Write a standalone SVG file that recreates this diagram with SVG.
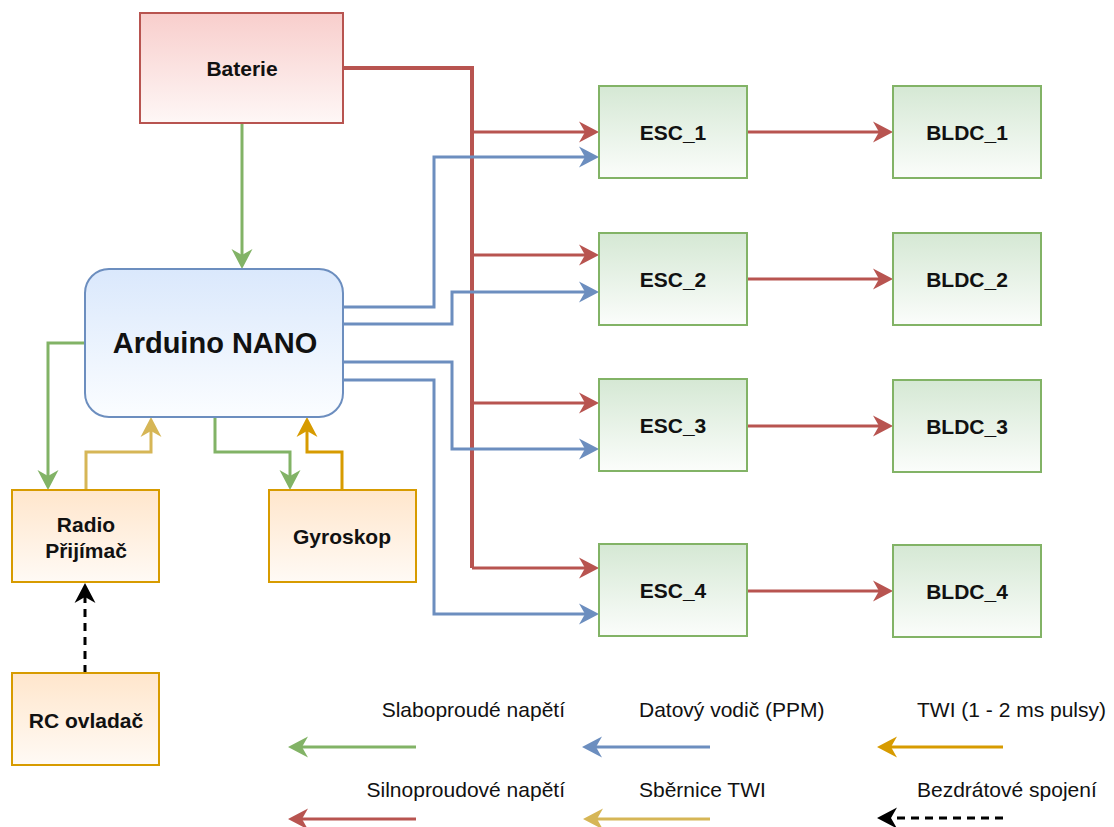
<svg xmlns="http://www.w3.org/2000/svg" width="1114" height="827" viewBox="0 0 1114 827">
<style>
.lbl{font-family:"Liberation Sans",Arial,Helvetica,sans-serif;font-weight:bold;font-size:21px;fill:#111;text-anchor:middle;dominant-baseline:central}
.big{font-size:29px}
.leg{font-family:"Liberation Sans",Arial,Helvetica,sans-serif;font-size:21px;fill:#111}
.c{fill:none;stroke-width:3;stroke-linejoin:miter}
.r{stroke:#b85450}.g{stroke:#82b366}.b{stroke:#6c8ebf}.o{stroke:#d79b00}.y{stroke:#d6b656}.k{stroke:#000;stroke-dasharray:8 6}
</style>
<defs>
<linearGradient id="gr" x1="0" y1="0" x2="0" y2="1"><stop offset="0" stop-color="#f8cecc"/><stop offset="1" stop-color="#fef7f6"/></linearGradient>
<linearGradient id="gg" x1="0" y1="0" x2="0" y2="1"><stop offset="0" stop-color="#d5e8d4"/><stop offset="1" stop-color="#fbfdfb"/></linearGradient>
<linearGradient id="gb" x1="0" y1="0" x2="0" y2="1"><stop offset="0" stop-color="#dae8fc"/><stop offset="1" stop-color="#fbfdff"/></linearGradient>
<linearGradient id="go" x1="0" y1="0" x2="0" y2="1"><stop offset="0" stop-color="#ffe6cc"/><stop offset="1" stop-color="#fffaf5"/></linearGradient>
<marker id="mr" markerUnits="userSpaceOnUse" markerWidth="26" markerHeight="26" viewBox="-22 -13 26 26" refX="-12" refY="0" orient="auto"><path d="M0,0 L-20,-10.5 L-14,0 L-20,10.5 Z" fill="#b85450"/></marker>
<marker id="mg" markerUnits="userSpaceOnUse" markerWidth="26" markerHeight="26" viewBox="-22 -13 26 26" refX="-12" refY="0" orient="auto"><path d="M0,0 L-20,-10.5 L-14,0 L-20,10.5 Z" fill="#82b366"/></marker>
<marker id="mb" markerUnits="userSpaceOnUse" markerWidth="26" markerHeight="26" viewBox="-22 -13 26 26" refX="-12" refY="0" orient="auto"><path d="M0,0 L-20,-10.5 L-14,0 L-20,10.5 Z" fill="#6c8ebf"/></marker>
<marker id="mo" markerUnits="userSpaceOnUse" markerWidth="26" markerHeight="26" viewBox="-22 -13 26 26" refX="-12" refY="0" orient="auto"><path d="M0,0 L-20,-10.5 L-14,0 L-20,10.5 Z" fill="#d79b00"/></marker>
<marker id="my" markerUnits="userSpaceOnUse" markerWidth="26" markerHeight="26" viewBox="-22 -13 26 26" refX="-12" refY="0" orient="auto"><path d="M0,0 L-20,-10.5 L-14,0 L-20,10.5 Z" fill="#d6b656"/></marker>
<marker id="mk" markerUnits="userSpaceOnUse" markerWidth="26" markerHeight="26" viewBox="-22 -13 26 26" refX="-12" refY="0" orient="auto"><path d="M0,0 L-20,-10.5 L-14,0 L-20,10.5 Z" fill="#000"/></marker>
</defs>
<rect width="1114" height="827" fill="#fff"/>
<g id="connectors">
<path class="c r" style="stroke-width:4" d="M343,68 H472 V568"/>
<path class="c r" marker-end="url(#mr)" d="M472,132 H587"/>
<path class="c r" marker-end="url(#mr)" d="M472,255 H587"/>
<path class="c r" marker-end="url(#mr)" d="M472,403 H587"/>
<path class="c r" marker-end="url(#mr)" d="M472,568 H587"/>
<path class="c r" marker-end="url(#mr)" d="M747,132 H881"/>
<path class="c r" marker-end="url(#mr)" d="M747,279 H881"/>
<path class="c r" marker-end="url(#mr)" d="M747,426 H881"/>
<path class="c r" marker-end="url(#mr)" d="M747,591 H881"/>
<path class="c b" marker-end="url(#mb)" d="M343,307 H434 V157 H587"/>
<path class="c b" marker-end="url(#mb)" d="M343,324 H452 V292 H587"/>
<path class="c b" marker-end="url(#mb)" d="M343,362 H452 V449 H587"/>
<path class="c b" marker-end="url(#mb)" d="M343,380 H434 V614 H587"/>
<path class="c g" marker-end="url(#mg)" d="M242,123 V257"/>
<path class="c g" marker-end="url(#mg)" d="M85,343 H48 V478"/>
<path class="c g" marker-end="url(#mg)" d="M215,417 V452 H290 V478"/>
<path class="c y" marker-end="url(#my)" d="M86,490 V452 H151 V429"/>
<path class="c o" marker-end="url(#mo)" d="M342,490 V452 H307 V429"/>
<path class="c k" marker-end="url(#mk)" d="M85,673 V595"/>
</g>
<g id="baterie"><rect x="140" y="13" width="203" height="110" fill="url(#gr)" stroke="#b85450" stroke-width="2"/><text class="lbl" x="242" y="68">Baterie</text></g>
<g id="arduino"><rect x="85" y="269" width="258" height="148" rx="24" fill="url(#gb)" stroke="#6c8ebf" stroke-width="2"/><text class="lbl big" x="215" y="343">Arduino NANO</text></g>
<g id="radio"><rect x="12" y="490" width="147" height="92" fill="url(#go)" stroke="#d79b00" stroke-width="2"/><text class="lbl" x="86" y="524">Radio</text><text class="lbl" x="86" y="550">Přijímač</text></g>
<g id="gyroskop"><rect x="269" y="490" width="147" height="92" fill="url(#go)" stroke="#d79b00" stroke-width="2"/><text class="lbl" x="342" y="536">Gyroskop</text></g>
<g id="rc"><rect x="12" y="673" width="147" height="92" fill="url(#go)" stroke="#d79b00" stroke-width="2"/><text class="lbl" x="86" y="720">RC ovladač</text></g>
<g id="esc1"><rect x="599" y="86" width="148" height="92" fill="url(#gg)" stroke="#82b366" stroke-width="2"/><text class="lbl" x="673" y="132">ESC_1</text></g>
<g id="esc2"><rect x="599" y="233" width="148" height="92" fill="url(#gg)" stroke="#82b366" stroke-width="2"/><text class="lbl" x="673" y="279">ESC_2</text></g>
<g id="esc3"><rect x="599" y="379" width="148" height="92" fill="url(#gg)" stroke="#82b366" stroke-width="2"/><text class="lbl" x="673" y="425">ESC_3</text></g>
<g id="esc4"><rect x="599" y="544" width="148" height="92" fill="url(#gg)" stroke="#82b366" stroke-width="2"/><text class="lbl" x="673" y="590">ESC_4</text></g>
<g id="bldc1"><rect x="893" y="86" width="148" height="92" fill="url(#gg)" stroke="#82b366" stroke-width="2"/><text class="lbl" x="967" y="132">BLDC_1</text></g>
<g id="bldc2"><rect x="893" y="233" width="148" height="92" fill="url(#gg)" stroke="#82b366" stroke-width="2"/><text class="lbl" x="967" y="279">BLDC_2</text></g>
<g id="bldc3"><rect x="893" y="380" width="148" height="92" fill="url(#gg)" stroke="#82b366" stroke-width="2"/><text class="lbl" x="967" y="426">BLDC_3</text></g>
<g id="bldc4"><rect x="893" y="545" width="148" height="92" fill="url(#gg)" stroke="#82b366" stroke-width="2"/><text class="lbl" x="967" y="591">BLDC_4</text></g>
<g id="legend">
<text class="leg" x="565" y="717" text-anchor="end">Slaboproudé napětí</text>
<text class="leg" x="639" y="717">Datový vodič (PPM)</text>
<text class="leg" x="917" y="717">TWI (1 - 2 ms pulsy)</text>
<text class="leg" x="565" y="797" text-anchor="end">Silnoproudové napětí</text>
<text class="leg" x="639" y="797">Sběrnice TWI</text>
<text class="leg" x="917" y="797">Bezdrátové spojení</text>
<path class="c g" marker-end="url(#mg)" d="M416,747 H300"/>
<path class="c b" marker-end="url(#mb)" d="M710,747 H594"/>
<path class="c o" marker-end="url(#mo)" d="M1003,747 H889"/>
<path class="c r" marker-end="url(#mr)" d="M416,819 H300"/>
<path class="c y" marker-end="url(#my)" d="M710,819 H595"/>
<path class="c k" marker-end="url(#mk)" d="M1003,818 H889"/>
</g>
</svg>
